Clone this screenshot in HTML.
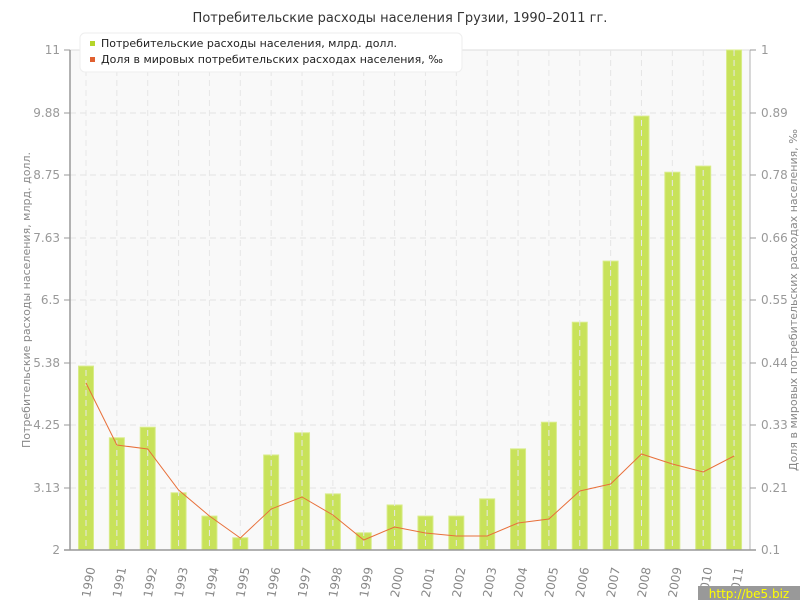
<!DOCTYPE html>
<html><head><meta charset="utf-8"><style>
body{margin:0;background:#fff;}
svg{display:block;font-family:"DejaVu Sans","Liberation Sans",sans-serif;}
</style></head><body>
<svg width="800" height="600" xmlns="http://www.w3.org/2000/svg">
<rect x="0" y="0" width="800" height="600" fill="#fff"/>
<text x="400" y="22" font-size="13" text-anchor="middle" fill="#333">Потребительские расходы населения Грузии, 1990–2011 гг.</text>
<rect x="70" y="50" width="680" height="500" fill="#f9f9f9"/>
<g stroke="#e2e2e2" stroke-dasharray="6,4" stroke-width="1">
<line x1="70" y1="113" x2="750" y2="113"/><line x1="70" y1="175" x2="750" y2="175"/><line x1="70" y1="238" x2="750" y2="238"/><line x1="70" y1="300" x2="750" y2="300"/><line x1="70" y1="363" x2="750" y2="363"/><line x1="70" y1="425" x2="750" y2="425"/><line x1="70" y1="488" x2="750" y2="488"/>
</g>
<line x1="70" y1="50" x2="750" y2="50" stroke="#ddd"/>
<g id="bars" fill="#c8e25a" stroke="#d8ec88" stroke-width="1"></g>
<g id="vg" stroke="#e6e6e6" stroke-dasharray="6,4"></g>
<polyline id="ln" fill="none" stroke="#e8703a" stroke-width="1"/>
<line x1="70" y1="50" x2="70" y2="550" stroke="#999" stroke-width="1.5"/>
<line x1="750" y1="50" x2="750" y2="550" stroke="#ccc" stroke-width="1.5"/>
<line x1="64" y1="550" x2="756" y2="550" stroke="#999" stroke-width="1.5"/>
<g font-size="12" fill="#999" text-anchor="end">
<text x="60" y="54">11</text><text x="60" y="117">9.88</text><text x="60" y="179">8.75</text><text x="60" y="242">7.63</text><text x="60" y="304">6.5</text><text x="60" y="367">5.38</text><text x="60" y="429">4.25</text><text x="60" y="492">3.13</text><text x="60" y="554">2</text>
</g>
<g font-size="12" fill="#999">
<text x="761" y="54">1</text><text x="761" y="117">0.89</text><text x="761" y="179">0.78</text><text x="761" y="242">0.66</text><text x="761" y="304">0.55</text><text x="761" y="367">0.44</text><text x="761" y="429">0.33</text><text x="761" y="492">0.21</text><text x="761" y="554">0.1</text>
</g>
<g stroke="#999"><line x1="64" y1="50" x2="70" y2="50"/><line x1="64" y1="113" x2="70" y2="113"/><line x1="64" y1="175" x2="70" y2="175"/><line x1="64" y1="238" x2="70" y2="238"/><line x1="64" y1="300" x2="70" y2="300"/><line x1="64" y1="363" x2="70" y2="363"/><line x1="64" y1="425" x2="70" y2="425"/><line x1="64" y1="488" x2="70" y2="488"/>
<line x1="750" y1="50" x2="756" y2="50"/><line x1="750" y1="113" x2="756" y2="113"/><line x1="750" y1="175" x2="756" y2="175"/><line x1="750" y1="238" x2="756" y2="238"/><line x1="750" y1="300" x2="756" y2="300"/><line x1="750" y1="363" x2="756" y2="363"/><line x1="750" y1="425" x2="756" y2="425"/><line x1="750" y1="488" x2="756" y2="488"/></g>
<g id="yrs" font-size="12" fill="#888"></g>
<text transform="translate(30,300) rotate(-90)" font-size="11" fill="#888" text-anchor="middle">Потребительские расходы населения, млрд. долл.</text>
<text transform="translate(797,300) rotate(-90)" font-size="11" fill="#888" text-anchor="middle">Доля в мировых потребительских расходах населения, ‰</text>
<rect x="80" y="33" width="382" height="39" rx="5" fill="#fff" stroke="#eee"/>
<rect x="90" y="41" width="5" height="5" fill="#b5d52a"/>
<text x="101" y="47" font-size="11" fill="#222">Потребительские расходы населения, млрд. долл.</text>
<rect x="90" y="57" width="5" height="5" fill="#e06030"/>
<text x="101" y="63" font-size="11" fill="#222">Доля в мировых потребительских расходах населения, ‰</text>
<rect x="698" y="586" width="102" height="14" fill="#999"/>
<text x="749" y="598" font-size="12" fill="#ffff00" text-anchor="middle">http://be5.biz</text>
</svg>
<script>
(function(){
var v=[5.31,4.02,4.21,3.03,2.61,2.22,3.71,4.11,3.01,2.31,2.81,2.61,2.61,2.92,3.82,4.30,6.10,7.20,9.81,8.80,8.91,11];
var ly=[383,445,449,490,516,538,509,497,515,540,527,533,536,536,523,519,491,484,454,464,472,456];
var ns="http://www.w3.org/2000/svg",b=document.getElementById('bars'),g=document.getElementById('vg'),y=document.getElementById('yrs'),pts=[];
for(var i=0;i<22;i++){var cx=86+i*30.86,ty=550-(v[i]-2)/9*500;
var r=document.createElementNS(ns,'rect');r.setAttribute('x',cx-7.5);r.setAttribute('y',ty);r.setAttribute('width',15);r.setAttribute('height',550-ty);b.appendChild(r);
var l=document.createElementNS(ns,'line');l.setAttribute('x1',cx);l.setAttribute('x2',cx);l.setAttribute('y1',50);l.setAttribute('y2',550);g.appendChild(l);
var t=document.createElementNS(ns,'text');t.setAttribute('transform','translate('+(cx+4)+',598) rotate(-80)');t.textContent=1990+i;y.appendChild(t);
pts.push(cx+','+ly[i]);}
document.getElementById('ln').setAttribute('points',pts.join(' '));
})();
</script>
</body></html>
